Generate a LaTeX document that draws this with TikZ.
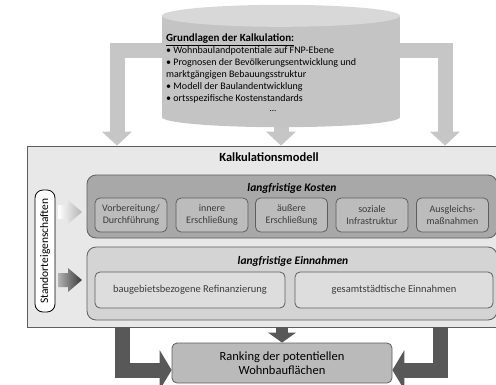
\documentclass[tikz,border=0pt]{standalone}
\usepackage{fontspec}
\setmainfont{Carlito}
\usetikzlibrary{arrows.meta,positioning}
\definecolor{cylbody}{HTML}{C4C4C4}
\definecolor{cyltop}{HTML}{D8D8D8}
\definecolor{arrowlight}{HTML}{C6C6C6}
\definecolor{arrowdark}{HTML}{585858}
\definecolor{frame}{HTML}{5E5E5E}
\definecolor{modellfill}{HTML}{E8E8E8}
\definecolor{kostfill}{HTML}{A8A8A8}
\definecolor{kostsub}{HTML}{BCBCBC}
\definecolor{einfill}{HTML}{D4D4D4}
\definecolor{einsub}{HTML}{DDDDDD}
\definecolor{rankfill}{HTML}{BABABA}
\definecolor{subtext}{HTML}{3C3C3C}
\tikzset{
  group/.style={rectangle,rounded corners=9pt,draw=frame,line width=0.8pt,inner sep=0pt},
  kostbox/.style={rectangle,rounded corners=5pt,draw=frame,line width=0.8pt,fill=kostsub,
    minimum width=72pt,minimum height=34pt,inner sep=1pt,align=center,text=subtext,
    font=\fontsize{10}{11.8}\selectfont},
  einbox/.style={rectangle,rounded corners=5pt,draw=frame,line width=0.8pt,fill=einsub,
    minimum height=36pt,inner sep=1pt,text=subtext,font=\fontsize{10.5}{12}\selectfont},
  gtitle/.style={font=\fontsize{11.5}{13}\selectfont\bfseries\itshape,inner sep=0pt},
  toparrow/.style={draw=arrowlight,line width=15pt,-{Triangle[width=30pt,length=14pt,line width=0pt]}},
  botarrow/.style={draw=arrowdark,line width=15pt,-{Triangle[width=40pt,length=12pt,line width=0pt]}},
}

\begin{document}
\begin{tikzpicture}[x=1pt,y=-1pt]
\useasboundingbox (0,0) rectangle (496,384);
% Grundlagen (Zylinder)
\node (grund) [minimum width=238pt,minimum height=101pt,inner sep=0pt] at (281,66.5) {};
%
\node (modell) [rectangle,draw=frame,line width=0.8pt,fill=modellfill,minimum width=473pt,minimum height=181pt] at (263.5,236.5) {};
\node (titel) [font=\fontsize{12.5}{14}\selectfont\bfseries,inner sep=0pt] at (269,157) {Kalkulationsmodell};
%
\node (kosten) [group,fill=kostfill,minimum width=410pt,minimum height=63pt] at (292,206.5) {};
\node (kosttitel) [gtitle] at (292,188) {langfristige Kosten};
\node (vorb) [kostbox] at (131,215) {Vorbereitung/\\Durchführung};
\node (inner) [kostbox] at (212,215) {innere\\Erschließung};
\node (outer) [kostbox] at (291.5,215) {äußere\\Erschließung};
\node (sozial) [kostbox] at (372,215) {soziale\\Infrastruktur};
\node (ausgl) [kostbox] at (452.5,215) {Ausgleichs-\\maßnahmen};
%
\node (einnahmen) [group,fill=einfill,minimum width=410pt,minimum height=73pt] at (292,283.5) {};
\node (eintitel) [gtitle] at (293,261) {langfristige Einnahmen};
\node (refin) [einbox,minimum width=190pt] at (190,290) {baugebietsbezogene Refinanzierung};
\node (gesamt) [einbox,minimum width=198pt] at (394,290) {gesamtstädtische Einnahmen};
%
\node (stand) [rectangle,rounded corners=8pt,draw=black,line width=0.8pt,fill=white,rotate=90,
  minimum width=122pt,minimum height=20pt,inner sep=0pt,font=\fontsize{11.5}{13}\selectfont] at (45,251) {Standorteigenschaften};
% Einfluss der Standorteigenschaften
\shade[left color=white,right color=black!30] (58,205) -- (68,205) -- (68,200) -- (82,212) -- (68,224) -- (68,219) -- (58,219) -- cycle;
\shade[left color=black!30,right color=black!78] (58,273) -- (68,273) -- (68,268) -- (82,280) -- (68,292) -- (68,287) -- (58,287) -- cycle;
%
\node (ranking) [rectangle,rounded corners=5pt,draw=frame,line width=0.8pt,fill=rankfill,
  minimum width=220pt,minimum height=40pt,align=center,font=\fontsize{12.5}{14}\selectfont] at (282,363) {Ranking der potentiellen\\Wohnbauflächen};
%
\draw[toparrow] ([yshift=16pt]grund.west) -| (modell.north -| 117,0);
\draw[toparrow] ([yshift=16pt]grund.east) -| (modell.north -| 445,0);
\draw[toparrow] (grund.south) -- (modell.north -| grund.south);
%
\fill[cylbody] (grund.north west) rectangle (grund.south east);
\fill[cylbody] (grund.south) ellipse [x radius=119,y radius=10];
\fill[cyltop] (grund.north) ellipse [x radius=119,y radius=11];
\node (inhalt) [anchor=north west,align=left,inner sep=0pt,font=\fontsize{10}{12}\selectfont] at (166,34)
  {{\fontsize{11}{12}\selectfont\bfseries\underline{Grundlagen der Kalkulation:}}\\
   • Wohnbaulandpotentiale auf FNP-Ebene\\
   • Prognosen der Bevölkerungsentwicklung und\\
   marktgängigen Bebauungsstruktur\\
   • Modell der Baulandentwicklung\\
   • ortsspezifische Kostenstandards};
\node (punkte) [font=\fontsize{9}{12}\selectfont,inner sep=0pt] at (273,111) {...};
%
\draw[botarrow] (modell.south -| 122.5,0) |- ([yshift=-7pt]ranking.west);
\draw[botarrow] (modell.south -| 440.5,0) |- ([yshift=-7pt]ranking.east);
\draw[draw=arrowdark,line width=12pt,-{Triangle[width=28pt,length=10pt,line width=0pt]}] (modell.south -| ranking.north) -- (ranking.north);
\end{tikzpicture}
\end{document}
